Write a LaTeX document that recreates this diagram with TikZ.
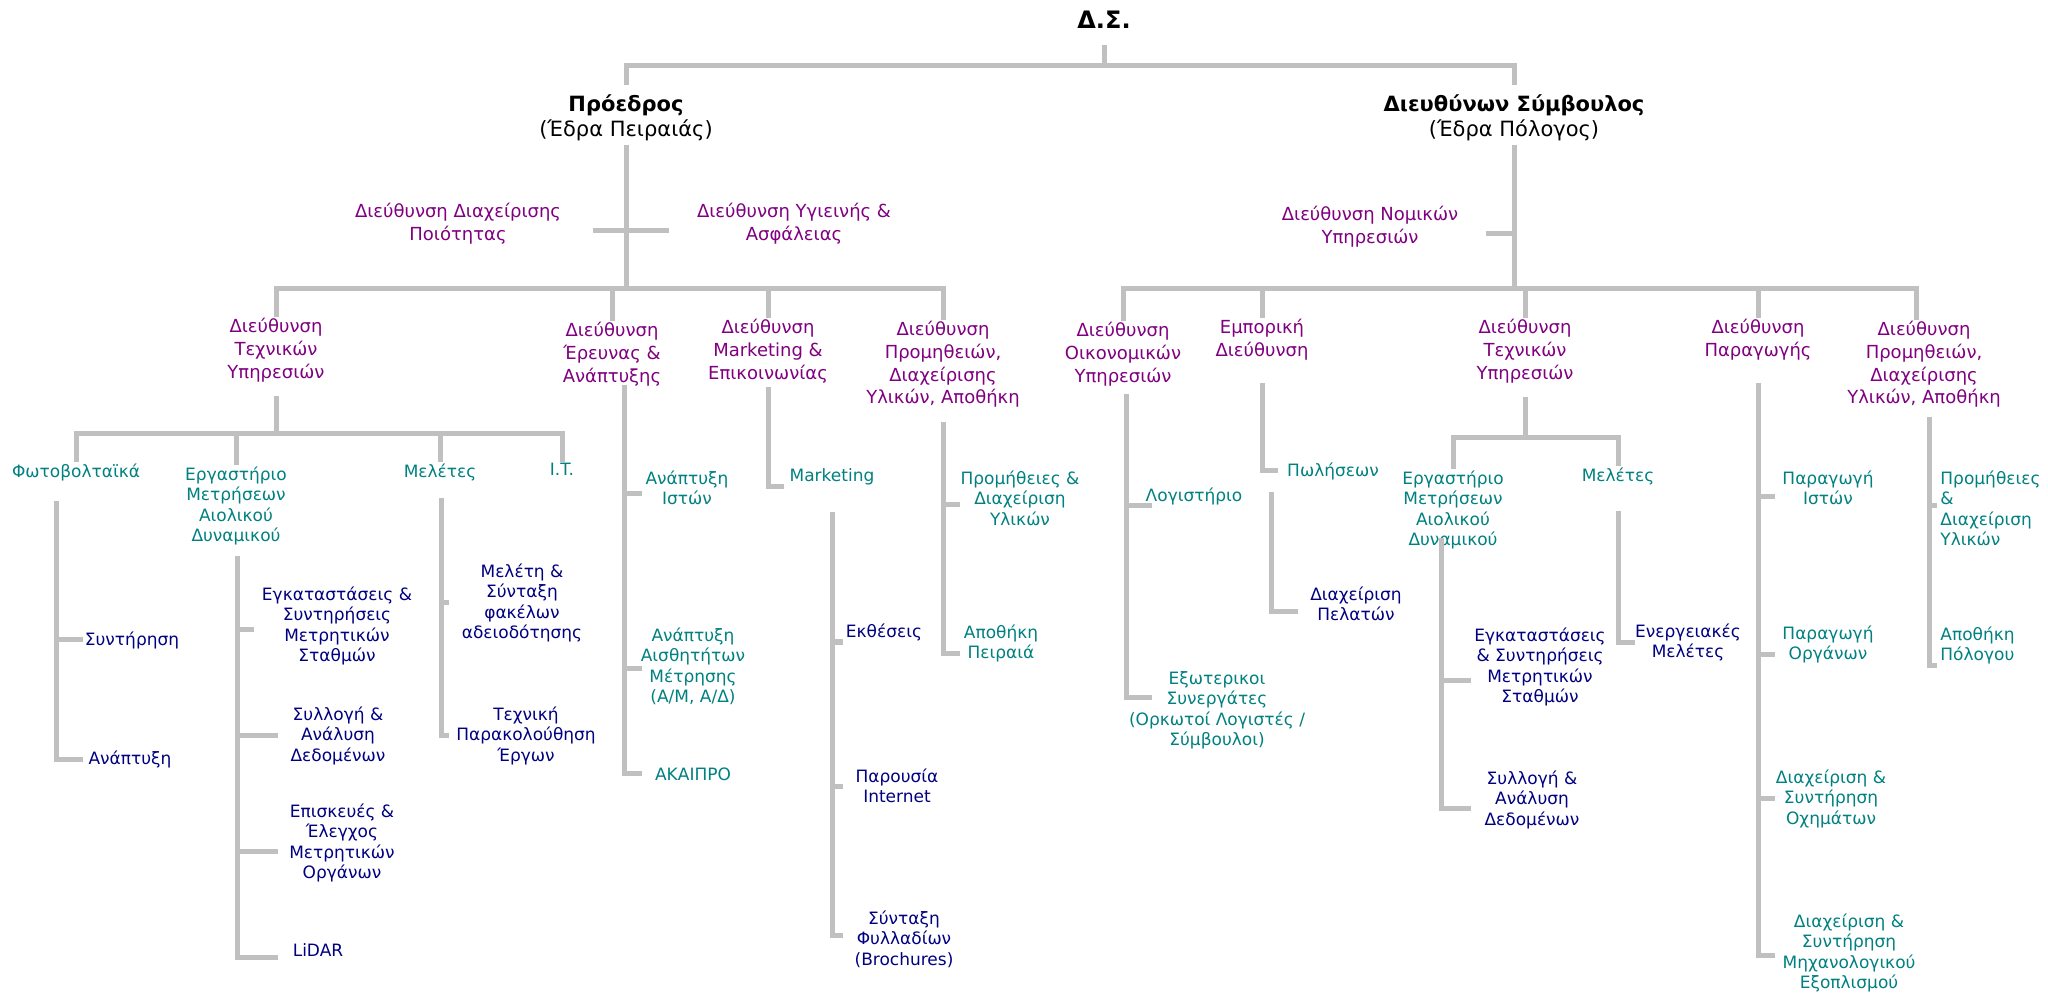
\documentclass[tikz,border=0pt]{standalone}
\usepackage{fontspec}
\setmainfont{DejaVu Sans}
\usepackage{tikz}
\usetikzlibrary{calc}
\definecolor{dirpurple}{HTML}{800080}
\definecolor{unitteal}{HTML}{008080}
\definecolor{subnavy}{HTML}{000080}
\definecolor{linkgray}{HTML}{C0C0C0}

\begin{document}
\begin{tikzpicture}[x=0.5pt, y=-0.5pt,
    link/.style={draw=linkgray, line width=2.5pt, line cap=rect},
    head/.style={align=center, inner sep=2pt, font=\fontsize{10.5}{12.5}\selectfont},
    staff/.style={text=dirpurple, align=center, inner sep=2pt, anchor=north, font=\fontsize{9}{11.5}\selectfont},
    dir/.style={staff, font=\fontsize{9}{11.35}\selectfont},
    unit/.style={text=unitteal, align=center, inner sep=2pt, anchor=north, font=\fontsize{8.5}{10.25}\selectfont},
    sub/.style={unit, text=subnavy}]
\useasboundingbox (0,0) rectangle (2048,992);

% board and the two heads
\node[head, font=\fontsize{12}{14}\selectfont\bfseries] (ds) at (1104,20) {Δ.Σ.};
\node[head, anchor=north] (pres) at (626,90) {\textbf{Πρόεδρος}\\(Έδρα Πειραιάς)};
\node[head, anchor=north] (ceo) at (1514,90) {\textbf{Διευθύνων Σύμβουλος}\\(Έδρα Πόλογος)};

% staff units
\node[staff] (qual) at (458,199) {Διεύθυνση Διαχείρισης\\Ποιότητας};
\node[staff] (safe) at (794,199) {Διεύθυνση Υγιεινής \&\\Ασφάλειας};
\node[staff] (legal) at (1370,202) {Διεύθυνση Νομικών\\Υπηρεσιών};

% directorates
\node[dir] (techL) at (276,314) {Διεύθυνση\\Τεχνικών\\Υπηρεσιών};
\node[dir] (rnd) at (612,318) {Διεύθυνση\\Έρευνας \&\\Ανάπτυξης};
\node[dir] (mark) at (768,315) {Διεύθυνση\\Marketing \&\\Επικοινωνίας};
\node[dir] (procL) at (943,317) {Διεύθυνση\\Προμηθειών,\\Διαχείρισης\\Υλικών, Αποθήκη};
\node[dir] (fin) at (1123,318) {Διεύθυνση\\Οικονομικών\\Υπηρεσιών};
\node[dir] (comm) at (1262,315) {Εμπορική\\Διεύθυνση};
\node[dir] (techR) at (1525,315) {Διεύθυνση\\Τεχνικών\\Υπηρεσιών};
\node[dir] (prod) at (1758,315) {Διεύθυνση\\Παραγωγής};
\node[dir] (procR) at (1924,317) {Διεύθυνση\\Προμηθειών,\\Διαχείρισης\\Υλικών, Αποθήκη};

% technical services (left)
\node[unit] (foto) at (76,459) {Φωτοβολταϊκά};
\node[unit] (labL) at (236,462) {Εργαστήριο\\Μετρήσεων\\Αιολικού\\Δυναμικού};
\node[unit] (studL) at (440,459) {Μελέτες};
\node[unit] (it) at (562,459) {I.T.};
\node[sub] (maint) at (132,627) {Συντήρηση};
\node[sub] (devF) at (130,746) {Ανάπτυξη};
\node[sub] (instL) at (337,582) {Εγκαταστάσεις \&\\Συντηρήσεις\\Μετρητικών\\Σταθμών};
\node[sub] (dataL) at (338,702) {Συλλογή \&\\Ανάλυση\\Δεδομένων};
\node[sub] (repair) at (342,799) {Επισκευές \&\\Έλεγχος\\Μετρητικών\\Οργάνων};
\node[sub] (lidar) at (318,939) {LiDAR};
\node[sub] (permit) at (522,559) {Μελέτη \&\\Σύνταξη\\φακέλων\\αδειοδότησης};
\node[sub] (monit) at (526,702) {Τεχνική\\Παρακολούθηση\\Έργων};

% research, marketing, procurement (left)
\node[unit] (webdev) at (687,466) {Ανάπτυξη\\Ιστών};
\node[unit] (sensor) at (693,623) {Ανάπτυξη\\Αισθητήτων\\Μέτρησης\\(Α/Μ, Α/Δ)};
\node[unit] (akai) at (693,763) {ΑΚΑΙΠΡΟ};
\node[unit] (mkt) at (832,464) {Marketing};
\node[sub] (expo) at (884,619) {Εκθέσεις};
\node[sub] (inet) at (897,764) {Παρουσία\\Internet};
\node[sub] (broch) at (904,906) {Σύνταξη\\Φυλλαδίων\\(Brochures)};
\node[unit] (supL) at (1020,466) {Προμήθειες \&\\Διαχείριση\\Υλικών};
\node[unit] (storeP) at (1001,620) {Αποθήκη\\Πειραιά};

% finance, commercial
\node[unit] (acct) at (1194,483) {Λογιστήριο};
\node[unit] (extp) at (1217,667) {Εξωτερικοι\\Συνεργάτες\\(Ορκωτοί Λογιστές /\\Σύμβουλοι)};
\node[unit] (sales) at (1333,458) {Πωλήσεων};
\node[sub] (cust) at (1356,582) {Διαχείριση\\Πελατών};

% technical services (right)
\node[unit] (labR) at (1453,466) {Εργαστήριο\\Μετρήσεων\\Αιολικού\\Δυναμικού};
\node[unit] (studR) at (1618,463) {Μελέτες};
\node[sub] (instR) at (1540,623) {Εγκαταστάσεις\\\& Συντηρήσεις\\Μετρητικών\\Σταθμών};
\node[sub] (dataR) at (1532,766) {Συλλογή \&\\Ανάλυση\\Δεδομένων};
\node[sub] (energy) at (1688,619) {Ενεργειακές\\Μελέτες};

% production, procurement (right)
\node[unit] (pmast) at (1828,466) {Παραγωγή\\Ιστών};
\node[unit] (pinst) at (1828,621) {Παραγωγή\\Οργάνων};
\node[unit] (fleet) at (1831,765) {Διαχείριση \&\\Συντήρηση\\Οχημάτων};
\node[unit] (mech) at (1849,909) {Διαχείριση \&\\Συντήρηση\\Μηχανολογικού\\Εξοπλισμού};
\node[unit, align=left, anchor=north west] (supR) at (1936,466) {Προμήθειες\\\&\\Διαχείριση\\Υλικών};
\node[unit, align=left, anchor=north west] (storeK) at (1936,622) {Αποθήκη\\Πόλογου};

% top links
\coordinate (topbar) at (1104,65);
\draw[link, shorten <=7pt] (ds.south) -- (topbar);
\draw[link] ([yshift=4pt]pres.north) |- (topbar) -| ([yshift=4pt]ceo.north);

% chairman side
\coordinate (barL) at (626,288);
\coordinate (cross) at (626,230);
\draw[link, shorten <=1pt] (pres.south) -- (barL);
\draw[link, shorten <=15pt, shorten >=13pt] (qual.east |- cross) -- (safe.west |- cross);
\draw[link] (techL.north) |- (barL) -| (procL.north);
\foreach \d in {rnd, mark} \draw[link] (\d.north) -- (\d.north |- barL);

% ceo side
\coordinate (barR) at (1514,288);
\coordinate (legaltick) at (1514,233);
\draw[link, shorten <=1pt] (ceo.south) -- (barR);
\draw[link, shorten <=13pt] (legal.east |- legaltick) -- (legaltick);
\draw[link] (fin.north) |- (barR) -| ([xshift=-4pt]procR.north);
\foreach \d in {comm, techR, prod} \draw[link] (\d.north) -- (\d.north |- barR);

% third level bars
\coordinate (bar3L) at (276,433);
\draw[link, shorten <=6pt] (techL.south) -- (bar3L);
\draw[link] (foto.north) |- (bar3L) -| (it.north);
\foreach \u in {labL, studL} \draw[link] (\u.north) -- (\u.north |- bar3L);
\coordinate (bar3R) at (1525,437);
\draw[link, shorten <=6pt] (techR.south) -- (bar3R);
\draw[link] (labR.north) |- (bar3R) -| (studR.north);

% spines
\coordinate (spFoto) at (56,503);
\coordinate (spLabL) at (237,558);
\coordinate (spStudL) at (441,500);
\coordinate (spRnd) at (624,387);
\coordinate (spMark) at (768,389);
\coordinate (spMkt) at (832,514);
\coordinate (spProcL) at (943,424);
\coordinate (spFin) at (1126,396);
\coordinate (spComm) at (1262,385);
\coordinate (spSales) at (1271,494);
\coordinate (spLabR) at (1441,540);
\coordinate (spStudR) at (1618,513);
\coordinate (spProd) at (1758,385);
\coordinate (spProcR) at (1929,419);
\foreach \sp/\c/\l/\dy in {spFoto/maint/24/0, spFoto/devF/24/0,
    spLabL/instL/14/4, spLabL/dataL/38/0, spLabL/repair/38/9, spLabL/lidar/38/8,
    spStudL/permit/5/0, spStudL/monit/5/0,
    spRnd/webdev/15/6, spRnd/sensor/15/2, spRnd/akai/15/0,
    spMark/mkt/13/10, spMkt/expo/8/10, spMkt/inet/8/1, spMkt/broch/8/-3,
    spProcL/supL/14/7, spProcL/storeP/14/10,
    spFin/acct/23/10, spFin/extp/23/-13,
    spComm/sales/13/0, spSales/cust/24/8,
    spLabR/instR/27/14, spLabR/dataR/27/9, spStudR/energy/14/0,
    spProd/pmast/14/9, spProd/pinst/14/10, spProd/fleet/14/0, spProd/mech/14/3,
    spProcR/supR/5/-3, spProcR/storeK/5/20}
  \draw[link] (\sp) |- ($(\sp |- \c.west)+(\l,\dy)$);
\end{tikzpicture}
\end{document}
